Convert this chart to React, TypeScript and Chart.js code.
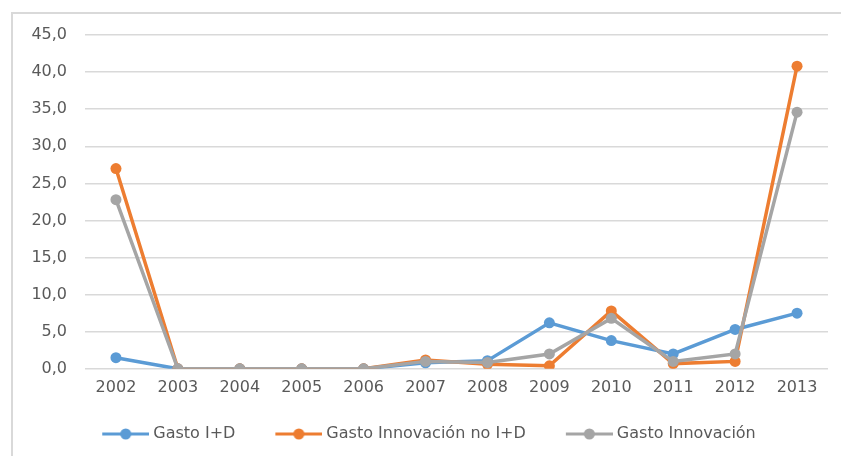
import React, { useEffect, useRef } from "react";
import { Chart, registerables } from "chart.js";

Chart.register(...registerables);

const years = ["2002", "2003", "2004", "2005", "2006", "2007", "2008", "2009", "2010", "2011", "2012", "2013"];
const gastoID = [1.5, 0, 0, 0, 0, 0.8, 1.1, 6.2, 3.8, 2.0, 5.3, 7.5];
const gastoInnovNoID = [27.0, 0, 0, 0, 0, 1.2, 0.6, 0.4, 7.8, 0.7, 1.0, 40.8];
const gastoInnov = [22.8, 0, 0, 0, 0, 1.0, 0.85, 2.0, 6.8, 1.0, 2.0, 34.6];
const seriesNames = ["Gasto I+D", "Gasto Innovación no I+D", "Gasto Innovación"];
const seriesColors = ["#5b9bd5", "#ed7d31", "#a5a5a5"];
const yMin = 0;
const yMax = 45;
const yStep = 5;

const FONT = "'DejaVu Sans', sans-serif";
const TEXT = "#595959";
const GRID = "#d9d9d9";
const LEGEND_PAD = 20;
const BOX_W = 63;

function makeIcon(color: string): HTMLCanvasElement {
  const c = document.createElement("canvas");
  const cw = BOX_W + 8;
  c.width = cw;
  c.height = 12;
  const ctx = c.getContext("2d")!;
  const x1 = cw / 2 + BOX_W / 2 - 43;
  const x2 = cw;
  ctx.strokeStyle = color;
  ctx.lineWidth = 3;
  ctx.beginPath();
  ctx.moveTo(x1, 6);
  ctx.lineTo(x2, 6);
  ctx.stroke();
  ctx.fillStyle = color;
  ctx.beginPath();
  ctx.arc((x1 + x2) / 2, 6, 5.5, 0, Math.PI * 2);
  ctx.fill();
  return c;
}

const framePlugin = {
  id: "frame",
  beforeDraw(chart: any) {
    const ctx = chart.ctx;
    ctx.save();
    ctx.fillStyle = "#ffffff";
    ctx.fillRect(0, 0, chart.width, chart.height);
    ctx.strokeStyle = GRID;
    ctx.lineWidth = 2;
    ctx.beginPath();
    ctx.moveTo(12, chart.height);
    ctx.lineTo(12, 13);
    ctx.lineTo(chart.width, 13);
    ctx.stroke();
    ctx.restore();
  },
};

export default function App() {
  const ref = useRef<HTMLCanvasElement | null>(null);

  useEffect(() => {
    document.body.style.margin = "0";
    const icons = seriesColors.map(makeIcon);
    const data = [gastoID, gastoInnovNoID, gastoInnov];
    const orders = [2, 1, 0];
    const chart = new Chart(ref.current!, {
      type: "line",
      data: {
        labels: years,
        datasets: seriesNames.map((name, i) => ({
          label: name,
          data: data[i],
          borderColor: seriesColors[i],
          backgroundColor: seriesColors[i],
          borderWidth: 3.5,
          pointRadius: 5.5,
          pointHoverRadius: 5.5,
          pointBorderWidth: 0,
          pointStyle: "circle",
          tension: 0,
          order: orders[i],
        })),
      },
      options: {
        responsive: false,
        animation: false,
        maintainAspectRatio: false,
        layout: { padding: { left: 10, right: 13, top: 35, bottom: 4 } },
        scales: {
          x: {
            offset: true,
            grid: { display: false, drawTicks: false },
            border: { display: false },
            ticks: { color: TEXT, font: { family: FONT, size: 16 }, padding: 9 },
          },
          y: {
            min: yMin,
            max: yMax,
            grid: { color: GRID, lineWidth: 1.5, drawTicks: false },
            border: { display: false },
            ticks: {
              stepSize: yStep,
              color: TEXT,
              font: { family: FONT, size: 16 },
              padding: 18,
              callback: (v: any) => Number(v).toFixed(1).replace(".", ","),
            },
            afterFit: (scale: any) => {
              scale.width = 75;
            },
          },
        },
        plugins: {
          tooltip: { enabled: false },
          legend: {
            position: "bottom",
            labels: {
              usePointStyle: true,
              pointStyleWidth: BOX_W,
              boxHeight: 12,
              padding: LEGEND_PAD,
              color: TEXT,
              font: { family: FONT, size: 16 },
              sort: (a: any, b: any) => a.datasetIndex - b.datasetIndex,
              generateLabels: (c: any) =>
                Chart.defaults.plugins.legend.labels.generateLabels(c).map((item: any) => ({
                  ...item,
                  pointStyle: icons[item.datasetIndex],
                })),
            },
          },
        },
      },
      plugins: [framePlugin],
    });
    return () => chart.destroy();
  }, []);

  return (
    <div style={{ width: 841, height: 456 }}>
      <canvas ref={ref} width={841} height={456} style={{ display: "block" }} />
    </div>
  );
}
